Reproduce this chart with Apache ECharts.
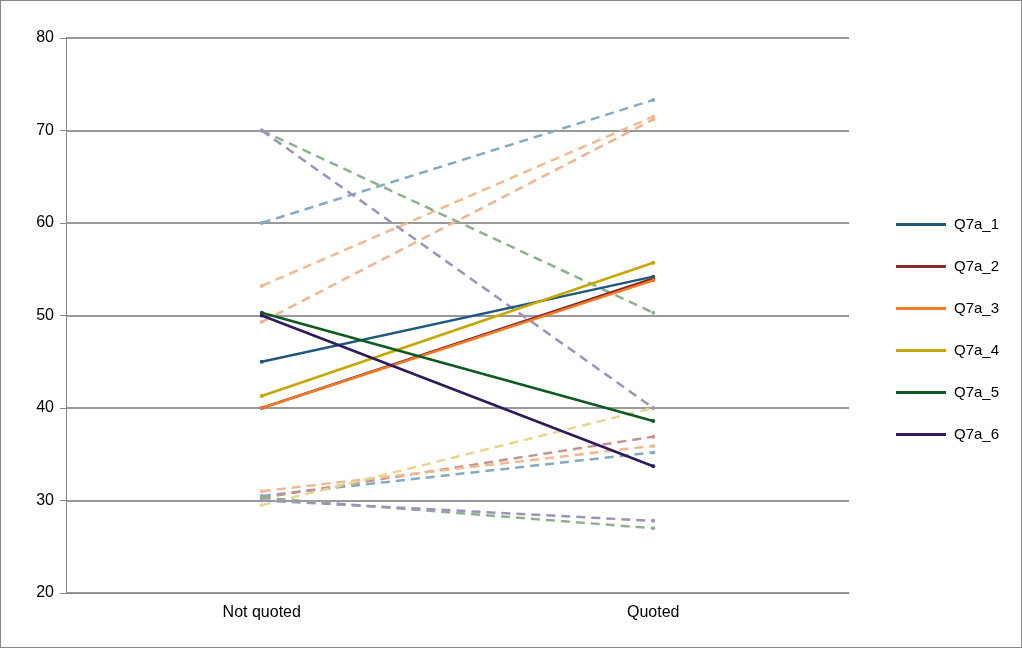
<!DOCTYPE html><html><head><meta charset="utf-8"><script src="https://cdn.jsdelivr.net/npm/echarts@6/dist/echarts.min.js"></script>
<style>html,body{margin:0;padding:0;background:#fff}#c{width:1022px;height:648px;box-sizing:border-box;border:1px solid #888}</style></head><body><div id="c"></div><script>
const categories=['Not quoted','Quoted'];
const names=['Q7a_1','Q7a_2','Q7a_3','Q7a_4','Q7a_5','Q7a_6'];
const mainVals=[[45,54.2],[40,54],[40,53.8],[41.3,55.7],[50.3,38.6],[50,33.7]];
const upperVals=[[60,73.3],[49.3,71.2],[53.2,71.5],[29.5,40],[70,50.3],[70,40]];
const lowerVals=[[30.5,35.2],[30.3,36.9],[31,35.9],null,[30.3,27],[30,27.8]];
const colors=['#1f5a7e','#8b2a2a','#f07a26','#c8a800','#0f5a1f','#2e1a5e'];
const lightColors=['#85aac3','#c69393','#f5b98a','#e5d88e','#8fb08f','#9d92bd'];
const series=[];
names.forEach((n,i)=>{
 [upperVals[i],lowerVals[i]].forEach((v,k)=>{ if(!v)return;
  const c=(i===1&&k===0)?'#f2b48e':lightColors[i];
  series.push({type:'line',data:v,symbol:'circle',symbolSize:4,itemStyle:{color:c},lineStyle:{color:c,width:2.5,type:[9,6]},z:1});});
});
names.forEach((n,i)=>series.push({name:n,type:'line',data:mainVals[i],symbol:'circle',symbolSize:4,showSymbol:true,itemStyle:{color:colors[i]},lineStyle:{color:colors[i],width:2.5},z:3}));
const ch=echarts.init(document.getElementById('c'));
ch.setOption({animation:false,
grid:{left:65,right:172,top:37,bottom:54},
legend:{orient:'vertical',left:890,top:211,itemGap:27,itemWidth:50,itemHeight:3,icon:'rect',data:names,textStyle:{fontFamily:'Liberation Sans',fontSize:15,color:'#000',padding:[0,0,0,3]}},
xAxis:{type:'category',data:categories,boundaryGap:true,axisLine:{lineStyle:{color:'#888'}},axisTick:{lineStyle:{color:'#888'},length:6},axisLabel:{fontFamily:'Liberation Sans',fontSize:16,color:'#000',margin:12}},
yAxis:{type:'value',min:20,max:80,interval:10,axisLine:{show:true,lineStyle:{color:'#888'}},axisTick:{show:true,length:6,inside:false,lineStyle:{color:'#888'}},splitLine:{lineStyle:{color:'#999',width:2}},axisLabel:{fontFamily:'Liberation Sans',fontSize:16,color:'#000',margin:12}},
series});
</script></body></html>
